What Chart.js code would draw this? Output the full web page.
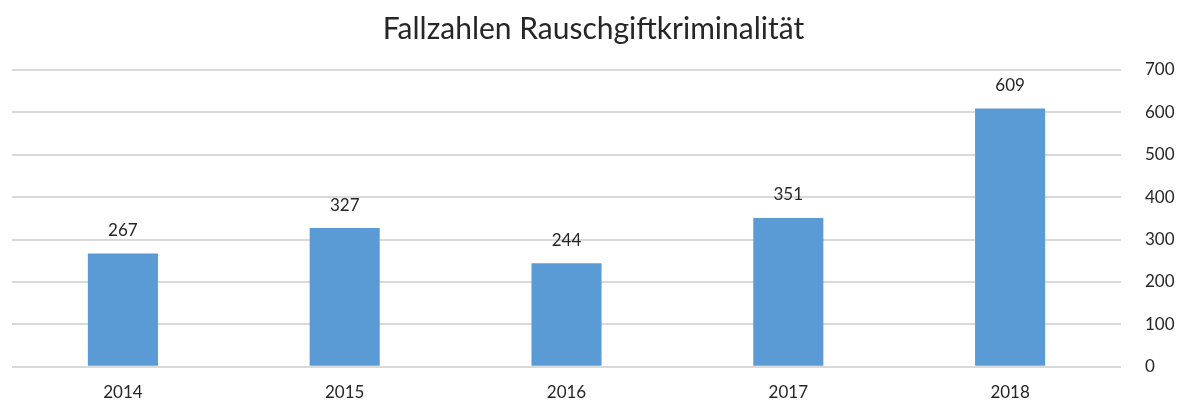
<!DOCTYPE html>
<html>
<head>
<meta charset="utf-8">
<script src="https://cdn.jsdelivr.net/npm/chart.js@4/dist/chart.umd.min.js"></script>
<style>
  html, body { margin: 0; padding: 0; background: #fff; }
  #wrap { width: 1182px; height: 401px; }
</style>
</head>
<body>
<div id="wrap"><canvas id="barChart"></canvas></div>
<script>
var years = ['2014', '2015', '2016', '2017', '2018'];
var cases = [267, 327, 244, 351, 609];
var yTicks = [0, 100, 200, 300, 400, 500, 600, 700];

var fontName = 'Lato, "Open Sans", "DejaVu Sans", sans-serif';

// values above the bars
var valueLabels = {
	id: 'valueLabels',
	afterDatasetsDraw: function(chart) {
		var ctx = chart.ctx;
		var meta = chart.getDatasetMeta(0);
		ctx.save();
		ctx.font = '17px ' + fontName;
		ctx.fillStyle = '#262626';
		ctx.textAlign = 'center';
		ctx.textBaseline = 'middle';
		meta.data.forEach(function(bar, i) {
			ctx.fillText(cases[i], bar.x, bar.y - 23);
		});
		ctx.restore();
	}
};

var config = {
	type: 'bar',
	data: {
		labels: years,
		datasets: [{
			data: cases,
			backgroundColor: '#5b9bd5',
			barPercentage: 0.316,
			categoryPercentage: 1
		}]
	},
	options: {
		responsive: true,
		maintainAspectRatio: false,
		animation: false,
		layout: { padding: { left: 12, right: 7, top: 12, bottom: 0 } },
		plugins: {
			legend: { display: false },
			tooltip: { enabled: false },
			title: {
				display: true,
				text: 'Fallzahlen Rauschgiftkriminalität',
				color: '#262626',
				font: { family: fontName, size: 30, weight: 'normal', lineHeight: 1.16 },
				padding: { top: 0, bottom: 23 }
			}
		},
		scales: {
			x: {
				grid: { display: false },
				border: { display: false },
				afterFit: function(axis) { axis.height = 34; },
				ticks: {
					color: '#262626',
					padding: 8,
					font: { family: fontName, size: 17 }
				}
			},
			y: {
				position: 'right',
				min: 0,
				max: 700,
				afterBuildTicks: function(axis) {
					axis.ticks = yTicks.map(function(v) { return { value: v }; });
				},
				afterFit: function(axis) { axis.width = 54; },
				grid: { color: '#d9d9d9', lineWidth: 2, drawTicks: false },
				border: { display: false },
				ticks: {
					color: '#262626',
					padding: 24,
					font: { family: fontName, size: 17 }
				}
			}
		}
	},
	plugins: [valueLabels]
};

var ctxBar = document.getElementById('barChart').getContext('2d');
window.myBar = new Chart(ctxBar, config);
</script>
</body>
</html>
